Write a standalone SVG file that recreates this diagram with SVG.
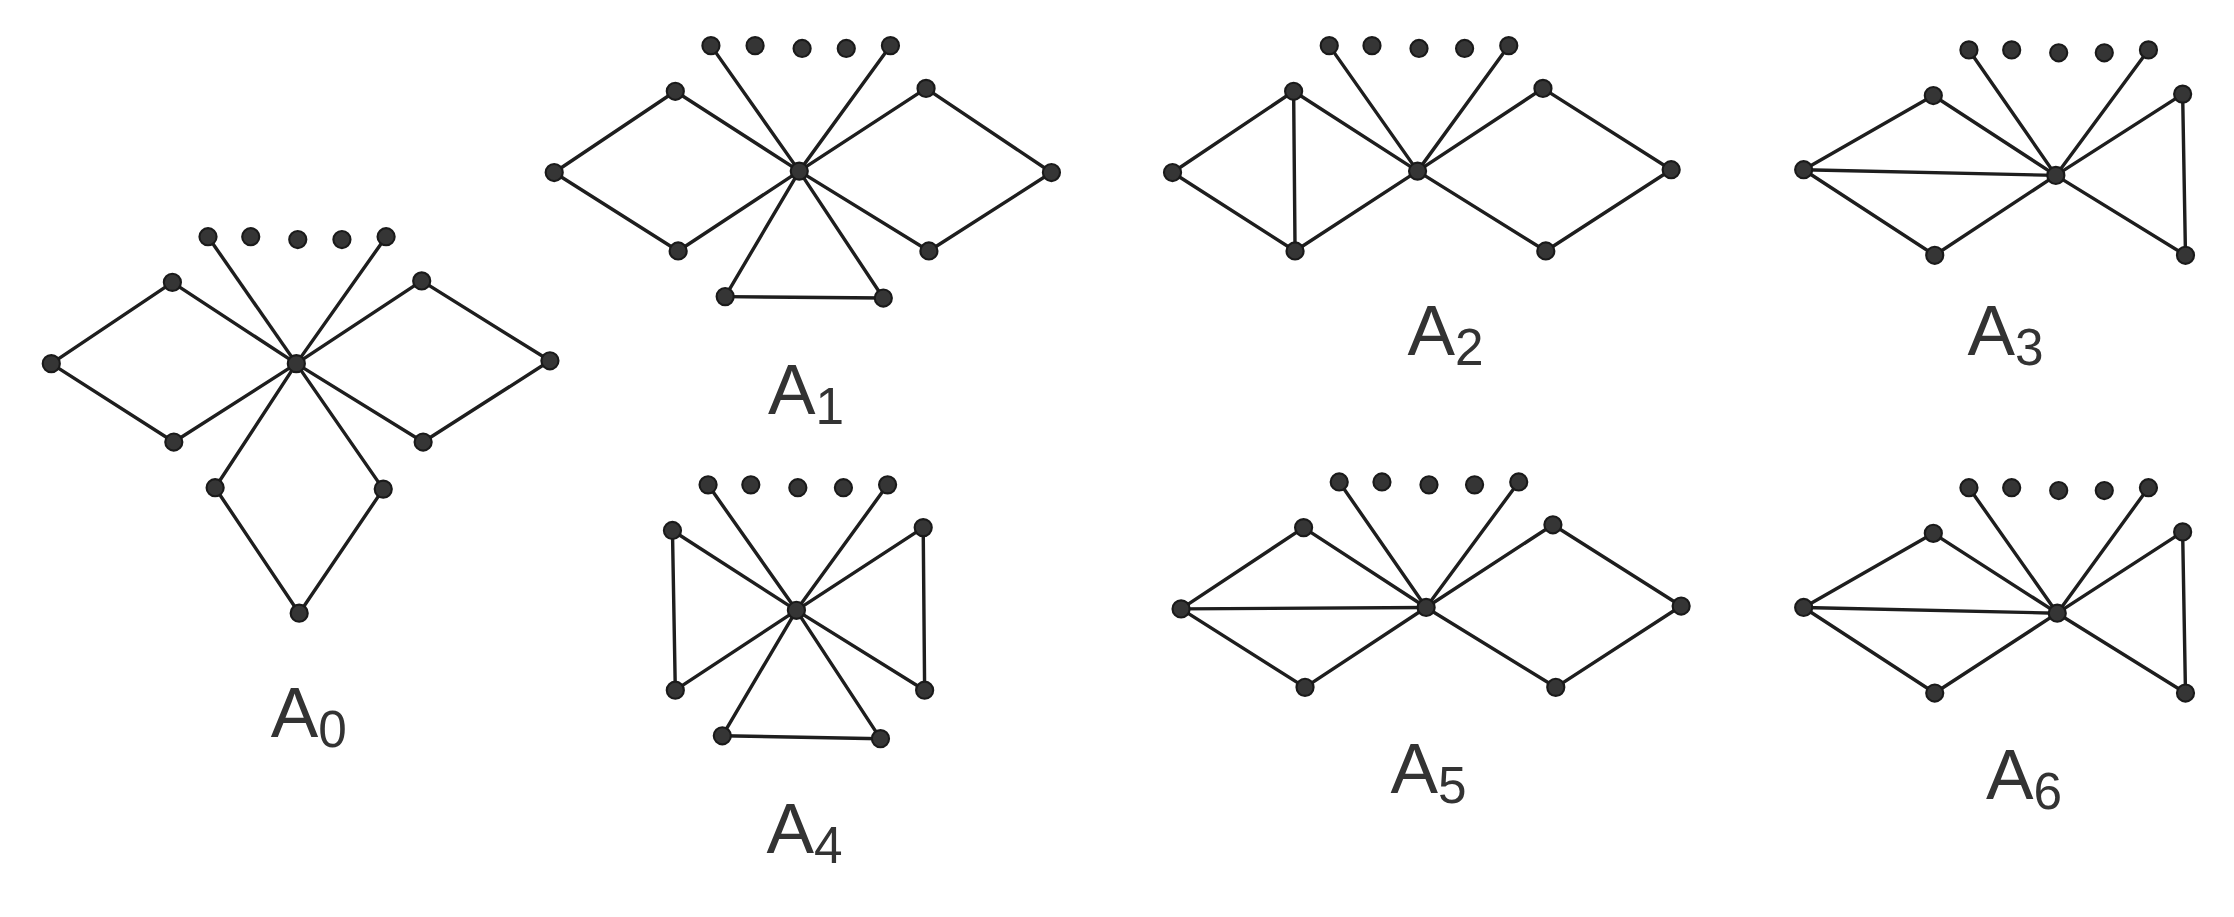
<svg xmlns="http://www.w3.org/2000/svg" width="2234" height="917" viewBox="0 0 2234 917">
<style>
.e line{stroke:#1e1e1e;stroke-width:2.4;stroke-linecap:round}
.n circle{fill:#353535;stroke:#1a1a1a;stroke-width:1.5}
.l{font-family:"Liberation Sans",Arial,sans-serif;font-size:50px;fill:#333}
.s{font-size:36px}
</style>
<rect width="2234" height="917" fill="#fff"/>
<g transform="scale(1.4247,1.426)">
<g id="connectors" class="e">
<!-- A0 -->
<line x1="208" y1="255" x2="146" y2="166"/><line x1="208" y1="255" x2="271" y2="166"/>
<line x1="208" y1="255" x2="121" y2="198"/><line x1="121" y1="198" x2="36" y2="255"/><line x1="36" y1="255" x2="122" y2="310"/><line x1="122" y1="310" x2="208" y2="255"/>
<line x1="208" y1="255" x2="296" y2="197"/><line x1="296" y1="197" x2="386" y2="253"/><line x1="386" y1="253" x2="297" y2="310"/><line x1="297" y1="310" x2="208" y2="255"/>
<line x1="208" y1="255" x2="151" y2="342"/><line x1="151" y1="342" x2="210" y2="430"/><line x1="210" y1="430" x2="269" y2="343"/><line x1="269" y1="343" x2="208" y2="255"/>
<!-- A1 -->
<line x1="561" y1="120" x2="499" y2="32"/><line x1="561" y1="120" x2="625" y2="32"/>
<line x1="561" y1="120" x2="474" y2="64"/><line x1="474" y1="64" x2="389" y2="121"/><line x1="389" y1="121" x2="476" y2="176"/><line x1="476" y1="176" x2="561" y2="120"/>
<line x1="561" y1="120" x2="650" y2="62"/><line x1="650" y1="62" x2="738" y2="121"/><line x1="738" y1="121" x2="652" y2="176"/><line x1="652" y1="176" x2="561" y2="120"/>
<line x1="561" y1="120" x2="509" y2="208"/><line x1="509" y1="208" x2="620" y2="209"/><line x1="620" y1="209" x2="561" y2="120"/>
<!-- A2 -->
<line x1="995" y1="120" x2="933" y2="32"/><line x1="995" y1="120" x2="1059" y2="32"/>
<line x1="995" y1="120" x2="908" y2="64"/><line x1="908" y1="64" x2="823" y2="121"/><line x1="823" y1="121" x2="909" y2="176"/><line x1="909" y1="176" x2="995" y2="120"/><line x1="908" y1="64" x2="909" y2="176"/>
<line x1="995" y1="120" x2="1083" y2="62"/><line x1="1083" y1="62" x2="1173" y2="119"/><line x1="1173" y1="119" x2="1085" y2="176"/><line x1="1085" y1="176" x2="995" y2="120"/>
<!-- A3 -->
<line x1="1443" y1="123" x2="1382" y2="35"/><line x1="1443" y1="123" x2="1508" y2="35"/>
<line x1="1443" y1="123" x2="1357" y2="67"/><line x1="1357" y1="67" x2="1266" y2="119"/><line x1="1266" y1="119" x2="1358" y2="179"/><line x1="1358" y1="179" x2="1443" y2="123"/><line x1="1266" y1="119" x2="1443" y2="123"/>
<line x1="1443" y1="123" x2="1532" y2="66"/><line x1="1532" y1="66" x2="1534" y2="179"/><line x1="1534" y1="179" x2="1443" y2="123"/>
<!-- A4 -->
<line x1="559" y1="428" x2="497" y2="340"/><line x1="559" y1="428" x2="623" y2="340"/>
<line x1="559" y1="428" x2="472" y2="372"/><line x1="472" y1="372" x2="474" y2="484"/><line x1="474" y1="484" x2="559" y2="428"/>
<line x1="559" y1="428" x2="648" y2="370"/><line x1="648" y1="370" x2="649" y2="484"/><line x1="649" y1="484" x2="559" y2="428"/>
<line x1="559" y1="428" x2="507" y2="516"/><line x1="507" y1="516" x2="618" y2="518"/><line x1="618" y1="518" x2="559" y2="428"/>
<!-- A5 -->
<line x1="1001" y1="426" x2="940" y2="338"/><line x1="1001" y1="426" x2="1066" y2="338"/>
<line x1="1001" y1="426" x2="915" y2="370"/><line x1="915" y1="370" x2="829" y2="427"/><line x1="829" y1="427" x2="916" y2="482"/><line x1="916" y1="482" x2="1001" y2="426"/><line x1="829" y1="427" x2="1001" y2="426"/>
<line x1="1001" y1="426" x2="1090" y2="368"/><line x1="1090" y1="368" x2="1180" y2="425"/><line x1="1180" y1="425" x2="1092" y2="482"/><line x1="1092" y1="482" x2="1001" y2="426"/>
<!-- A6 -->
<line x1="1444" y1="430" x2="1382" y2="342"/><line x1="1444" y1="430" x2="1508" y2="342"/>
<line x1="1444" y1="430" x2="1357" y2="374"/><line x1="1357" y1="374" x2="1266" y2="426"/><line x1="1266" y1="426" x2="1358" y2="486"/><line x1="1358" y1="486" x2="1444" y2="430"/><line x1="1266" y1="426" x2="1444" y2="430"/>
<line x1="1444" y1="430" x2="1532" y2="373"/><line x1="1532" y1="373" x2="1534" y2="486"/><line x1="1534" y1="486" x2="1444" y2="430"/>
</g>
<g id="A0" class="n">
<circle cx="146" cy="166" r="6"/><circle cx="176" cy="166" r="6"/><circle cx="209" cy="168" r="6"/><circle cx="240" cy="168" r="6"/><circle cx="271" cy="166" r="6"/>
<circle cx="208" cy="255" r="6"/><circle cx="121" cy="198" r="6"/><circle cx="36" cy="255" r="6"/><circle cx="122" cy="310" r="6"/>
<circle cx="296" cy="197" r="6"/><circle cx="386" cy="253" r="6"/><circle cx="297" cy="310" r="6"/>
<circle cx="151" cy="342" r="6"/><circle cx="269" cy="343" r="6"/><circle cx="210" cy="430" r="6"/>
<text class="l" x="190" y="517">A<tspan class="s" dy="7">0</tspan></text>
</g>
<g id="A1" class="n">
<circle cx="499" cy="32" r="6"/><circle cx="530" cy="32" r="6"/><circle cx="563" cy="34" r="6"/><circle cx="594" cy="34" r="6"/><circle cx="625" cy="32" r="6"/>
<circle cx="561" cy="120" r="6"/><circle cx="474" cy="64" r="6"/><circle cx="389" cy="121" r="6"/><circle cx="476" cy="176" r="6"/>
<circle cx="650" cy="62" r="6"/><circle cx="738" cy="121" r="6"/><circle cx="652" cy="176" r="6"/>
<circle cx="509" cy="208" r="6"/><circle cx="620" cy="209" r="6"/>
<text class="l" x="539" y="290">A<tspan class="s" dy="7">1</tspan></text>
</g>
<g id="A2" class="n">
<circle cx="933" cy="32" r="6"/><circle cx="963" cy="32" r="6"/><circle cx="996" cy="34" r="6"/><circle cx="1028" cy="34" r="6"/><circle cx="1059" cy="32" r="6"/>
<circle cx="995" cy="120" r="6"/><circle cx="908" cy="64" r="6"/><circle cx="823" cy="121" r="6"/><circle cx="909" cy="176" r="6"/>
<circle cx="1083" cy="62" r="6"/><circle cx="1173" cy="119" r="6"/><circle cx="1085" cy="176" r="6"/>
<text class="l" x="988" y="249">A<tspan class="s" dy="7">2</tspan></text>
</g>
<g id="A3" class="n">
<circle cx="1382" cy="35" r="6"/><circle cx="1412" cy="35" r="6"/><circle cx="1445" cy="37" r="6"/><circle cx="1477" cy="37" r="6"/><circle cx="1508" cy="35" r="6"/>
<circle cx="1443" cy="123" r="6"/><circle cx="1357" cy="67" r="6"/><circle cx="1266" cy="119" r="6"/><circle cx="1358" cy="179" r="6"/>
<circle cx="1532" cy="66" r="6"/><circle cx="1534" cy="179" r="6"/>
<text class="l" x="1381" y="249">A<tspan class="s" dy="7">3</tspan></text>
</g>
<g id="A4" class="n">
<circle cx="497" cy="340" r="6"/><circle cx="527" cy="340" r="6"/><circle cx="560" cy="342" r="6"/><circle cx="592" cy="342" r="6"/><circle cx="623" cy="340" r="6"/>
<circle cx="559" cy="428" r="6"/><circle cx="472" cy="372" r="6"/><circle cx="474" cy="484" r="6"/>
<circle cx="648" cy="370" r="6"/><circle cx="649" cy="484" r="6"/>
<circle cx="507" cy="516" r="6"/><circle cx="618" cy="518" r="6"/>
<text class="l" x="538" y="598">A<tspan class="s" dy="7">4</tspan></text>
</g>
<g id="A5" class="n">
<circle cx="940" cy="338" r="6"/><circle cx="970" cy="338" r="6"/><circle cx="1003" cy="340" r="6"/><circle cx="1035" cy="340" r="6"/><circle cx="1066" cy="338" r="6"/>
<circle cx="1001" cy="426" r="6"/><circle cx="915" cy="370" r="6"/><circle cx="829" cy="427" r="6"/><circle cx="916" cy="482" r="6"/>
<circle cx="1090" cy="368" r="6"/><circle cx="1180" cy="425" r="6"/><circle cx="1092" cy="482" r="6"/>
<text class="l" x="976" y="556">A<tspan class="s" dy="7">5</tspan></text>
</g>
<g id="A6" class="n">
<circle cx="1382" cy="342" r="6"/><circle cx="1412" cy="342" r="6"/><circle cx="1445" cy="344" r="6"/><circle cx="1477" cy="344" r="6"/><circle cx="1508" cy="342" r="6"/>
<circle cx="1444" cy="430" r="6"/><circle cx="1357" cy="374" r="6"/><circle cx="1266" cy="426" r="6"/><circle cx="1358" cy="486" r="6"/>
<circle cx="1532" cy="373" r="6"/><circle cx="1534" cy="486" r="6"/>
<text class="l" x="1394" y="560">A<tspan class="s" dy="7">6</tspan></text>
</g>
</g>
</svg>
